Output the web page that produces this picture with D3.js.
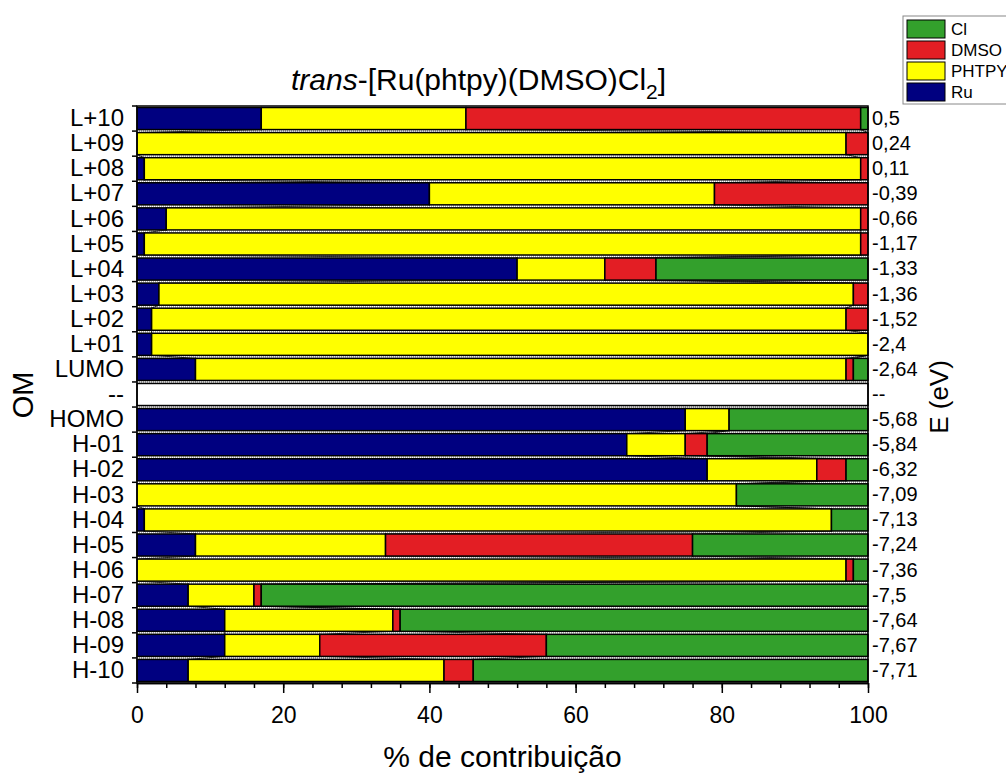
<!doctype html>
<html lang=en>
<head>
  <meta charset=utf-8>
  <title>trans-[Ru(phtpy)(DMSO)Cl2]</title>
  <style>
    html, body {
      margin: 0;
      background: white;
    }
    svg {
      display: block;
    }
    svg text {
      font-family: "Liberation Sans", Arial, sans-serif;
    }
    .axis path, .axis line {
      stroke: black;
      stroke-width: 1.5;
    }
    .axis text {
      fill: black;
    }
  </style>
  <script src="https://cdn.jsdelivr.net/npm/d3@7"></script>
</head>
<body>
<svg id=chart width=1006 height=773></svg>
<script>
  // orbitals, top to bottom
  const orbitals = ['L+10', 'L+09', 'L+08', 'L+07', 'L+06', 'L+05', 'L+04', 'L+03', 'L+02', 'L+01', 'LUMO', '--',
    'HOMO', 'H-01', 'H-02', 'H-03', 'H-04', 'H-05', 'H-06', 'H-07', 'H-08', 'H-09', 'H-10']
  const energies = ['0,5', '0,24', '0,11', '-0,39', '-0,66', '-1,17', '-1,33', '-1,36', '-1,52', '-2,4', '-2,64', '--',
    '-5,68', '-5,84', '-6,32', '-7,09', '-7,13', '-7,24', '-7,36', '-7,5', '-7,64', '-7,67', '-7,71']

  // % contribution of each fragment
  const ru    = [17, 0, 1, 40, 4, 1, 52, 3, 2, 2, 8, 0, 75, 67, 78, 0, 1, 8, 0, 7, 12, 12, 7]
  const phtpy = [28, 97, 98, 39, 95, 98, 12, 95, 95, 98, 89, 0, 6, 8, 15, 82, 94, 26, 97, 9, 23, 13, 35]
  const dmso  = [54, 3, 1, 21, 1, 1, 7, 2, 3, 0, 1, 0, 0, 3, 4, 0, 0, 42, 1, 1, 1, 31, 4]
  const cl    = [1, 0, 0, 0, 0, 0, 29, 0, 0, 0, 2, 0, 19, 22, 3, 18, 5, 24, 2, 83, 64, 44, 54]

  const xTicks = [0, 20, 40, 60, 80, 100]
  const legendOrder = ['Cl', 'DMSO', 'PHTPY', 'Ru']

  const keys = ['Ru', 'PHTPY', 'DMSO', 'Cl']
  const color = { Ru: '#000080', PHTPY: '#ffff00', DMSO: '#e31e24', Cl: '#33a02c' }

  const plotLeft = 137, plotRight = 868, plotTop = 106, plotBottom = 683

  const rows = orbitals.map((om, i) => ({
    om,
    Ru: ru[i],
    PHTPY: phtpy[i],
    DMSO: dmso[i],
    Cl: cl[i],
  }))
  const layers = d3.stack().keys(keys)(rows)

  const svg = d3.select('#chart')

  const x = d3.scaleLinear()
    .domain([0, 100])
    .range([plotLeft, plotRight])
  const y = d3.scaleBand()
    .domain(orbitals)
    .range([plotTop, plotBottom])
    .paddingInner(0.12)
    .paddingOuter(0.06)
  const bw = y.bandwidth()
  const step = y.step()

  // dotted grey lines in the gaps between bars
  svg.append('g')
    .selectAll('line')
    .data(d3.range(1, orbitals.length))
    .enter()
    .append('line')
      .attr('x1', x(0))
      .attr('x2', x(100))
      .attr('y1', k => plotTop + k * step)
      .attr('y2', k => plotTop + k * step)
      .attr('stroke', '#aaa')
      .attr('stroke-width', 2)
      .attr('stroke-dasharray', '1,1')

  // connect lines between segment edges of neighbouring bars
  const links = []
  for (let i = 0; i < rows.length - 1; i++) {
    if (rows[i].om === '--' || rows[i + 1].om === '--') continue
    for (let s = 0; s < keys.length - 1; s++) {
      links.push({
        x1: layers[s][i][1], y1: y(rows[i].om) + bw,
        x2: layers[s][i + 1][1], y2: y(rows[i + 1].om),
      })
    }
  }
  svg.append('g')
    .selectAll('line')
    .data(links)
    .enter()
    .append('line')
      .attr('x1', d => x(d.x1))
      .attr('x2', d => x(d.x2))
      .attr('y1', d => d.y1)
      .attr('y2', d => d.y2)
      .attr('stroke', 'black')
      .attr('stroke-width', 0.8)

  // empty row between LUMO and HOMO
  svg.append('rect')
    .attr('x', x(0))
    .attr('y', y('--'))
    .attr('width', x(100) - x(0))
    .attr('height', bw)
    .attr('fill', 'white')
    .attr('stroke', 'black')
    .attr('stroke-width', 1.5)

  svg.append('g')
    .selectAll('g')
    .data(layers)
    .enter()
    .append('g')
      .attr('fill', d => color[d.key])
    .selectAll('rect')
    .data(d => d.filter(p => p[1] - p[0] > 0))
    .enter()
    .append('rect')
      .attr('x', p => x(p[0]))
      .attr('y', p => y(p.data.om))
      .attr('width', p => x(p[1]) - x(p[0]))
      .attr('height', bw)
      .attr('stroke', 'black')
      .attr('stroke-width', 1.5)

  // left axis: labels plus ticks on band edges
  svg.append('g')
    .attr('class', 'axis')
    .attr('transform', `translate(${plotLeft},0)`)
    .call(d3.axisLeft(y).tickSize(0).tickPadding(13))
    .call(g => g.select('.domain').remove())
    .selectAll('text')
      .attr('font-size', 24)
      .attr('font-family', null)

  svg.append('g')
    .selectAll('line')
    .data(d3.range(0, orbitals.length + 1))
    .enter()
    .append('line')
      .attr('x1', plotLeft - 5)
      .attr('x2', plotLeft)
      .attr('y1', k => plotTop + k * step)
      .attr('y2', k => plotTop + k * step)
      .attr('stroke', 'black')
      .attr('stroke-width', 1.5)

  // right axis: orbital energies
  svg.append('g')
    .attr('class', 'axis')
    .attr('transform', `translate(${plotRight},0)`)
    .call(d3.axisRight(y).tickSize(0).tickPadding(4).tickFormat((d, i) => energies[i]))
    .call(g => g.select('.domain').remove())
    .selectAll('text')
      .attr('font-size', 20)

  // bottom axis, minor ticks every 4 %
  svg.append('g')
    .attr('class', 'axis')
    .attr('transform', `translate(0,${plotBottom})`)
    .call(d3.axisBottom(x).tickValues(d3.range(0, 101, 4)).tickSize(5).tickSizeOuter(0).tickFormat(''))
  svg.append('g')
    .attr('class', 'axis')
    .attr('transform', `translate(0,${plotBottom})`)
    .call(d3.axisBottom(x).tickValues(xTicks).tickSize(10).tickSizeOuter(0).tickPadding(14))
    .selectAll('text')
      .attr('font-size', 23)

  // frame
  svg.append('rect')
    .attr('x', plotLeft)
    .attr('y', plotTop)
    .attr('width', plotRight - plotLeft)
    .attr('height', plotBottom - plotTop)
    .attr('fill', 'none')
    .attr('stroke', 'black')
    .attr('stroke-width', 1.5)

  // title
  const title = svg.append('text')
    .attr('x', 291)
    .attr('y', 90)
    .attr('font-size', 30)
  title.append('tspan').attr('font-style', 'italic').text('trans')
  title.append('tspan').text('-[Ru(phtpy)(DMSO)Cl')
  title.append('tspan').attr('font-size', 21).attr('dy', 9).text('2')
  title.append('tspan').attr('dy', -9).text(']')

  svg.append('text')
    .attr('x', (plotLeft + plotRight) / 2)
    .attr('y', 767)
    .attr('text-anchor', 'middle')
    .attr('font-size', 30)
    .text('% de contribuição')

  svg.append('text')
    .attr('transform', 'translate(33,395) rotate(-90)')
    .attr('text-anchor', 'middle')
    .attr('font-size', 29)
    .text('OM')

  svg.append('text')
    .attr('transform', 'translate(948,397) rotate(-90)')
    .attr('text-anchor', 'middle')
    .attr('font-size', 26)
    .text('E (eV)')

  // legend
  const legend = svg.append('g')
  legend.append('rect')
    .attr('x', 903)
    .attr('y', 16)
    .attr('width', 130)
    .attr('height', 88)
    .attr('fill', 'white')
    .attr('stroke', '#888')
    .attr('stroke-width', 1)
  const item = legend.selectAll('g.item')
    .data(legendOrder)
    .enter()
    .append('g')
      .attr('class', 'item')
      .attr('transform', (d, i) => `translate(907,${20 + i * 21})`)
  item.append('rect')
    .attr('width', 38)
    .attr('height', 18)
    .attr('fill', d => color[d])
    .attr('stroke', 'black')
    .attr('stroke-width', 1)
  item.append('text')
    .attr('x', 44)
    .attr('y', 15)
    .attr('font-size', 17)
    .text(d => d)
</script>
</body>
</html>
